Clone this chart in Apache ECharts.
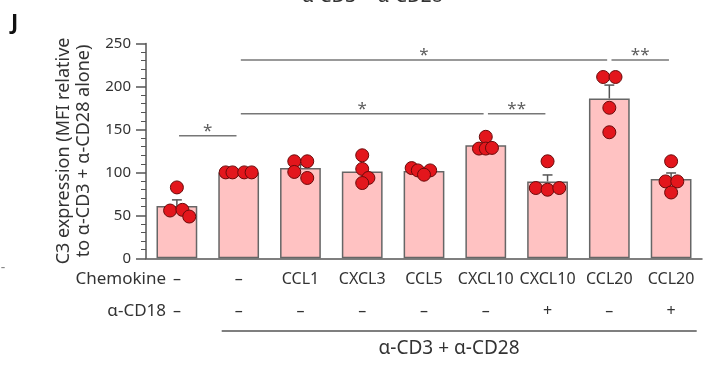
<!DOCTYPE html>
<html>
<head>
<meta charset="utf-8">
<script src="https://cdn.jsdelivr.net/npm/echarts@6/dist/echarts.min.js"></script>
<style>
  html, body { margin: 0; padding: 0; background: #fff; }
  #main { width: 706px; height: 370px; }
</style>
</head>
<body>
<div id="main"></div>
<script>
// categories along the x axis
const chemokines = ['–', '–', 'CCL1', 'CXCL3', 'CCL5', 'CXCL10', 'CXCL10', 'CCL20', 'CCL20'];
const cd18 = ['–', '–', '–', '–', '–', '–', '+', '–', '+'];

// bar means and the top of each SEM bar
const means = [61, 100, 105, 101, 101.5, 131.5, 89.5, 186, 92.3];
const semTop = [68, 100.5, 109, 108, 103, 134, 97, 201.6, 99.3];

// individual donors (4 per group) and their horizontal jitter, in category widths
const points = [
    [82.5, 55.6, 56.4, 48.6],
    [100, 100, 100, 100],
    [112.9, 112.9, 100.5, 93.5],
    [119.9, 104, 93.5, 87.6],
    [105, 102.3, 102.3, 97.3],
    [141.4, 127.7, 127.7, 128.5],
    [112.9, 81.8, 79.8, 81.8],
    [211, 211, 175.2, 146.7],
    [112.9, 89.5, 89.5, 76.6]
];
const jitter = [
    [0, -0.11, 0.09, 0.2],
    [-0.21, -0.1, 0.09, 0.21],
    [-0.1, 0.11, -0.1, 0.11],
    [0, 0, 0.1, 0],
    [-0.2, -0.1, 0.1, 0],
    [0, -0.11, 0, 0.1],
    [0, -0.19, 0, 0.19],
    [-0.1, 0.1, 0, 0],
    [0, -0.09, 0.1, 0]
];

// significance brackets
const bracketFrom = [0, 1, 5, 1, 7];
const bracketTo = [1, 5, 6, 7, 8];
const bracketY = [142.5, 168.2, 168.2, 230.8, 230.8];
const bracketText = ['*', '*', '**', '*', '**'];

const yTicks = [0, 50, 100, 150, 200, 250];

const axisColor = '#555';
const textColor = '#333';
const font = 'Noto Sans';

var myChart = echarts.init(document.getElementById('main'));

var dots = [];
points.forEach((grp, i) => {
    grp.forEach((v, j) => {
        dots.push([i + 0.5 + jitter[i][j], v]);
    });
});

var gap = 0.035;
var bracketSeries = bracketFrom.map((f, k) => ({
    type: 'line',
    xAxisIndex: 2,
    symbol: 'none',
    silent: true,
    z: 3,
    lineStyle: { color: '#777', width: 1.5 },
    data: [[f + 0.5 + gap, bracketY[k]], [bracketTo[k] + 0.5 - gap, bracketY[k]]]
}));

var starData = bracketFrom.map((f, k) => ({
    value: [(f + bracketTo[k]) / 2 + 0.5, bracketY[k]],
    label: { formatter: bracketText[k] }
}));

var option = {
    animation: false,
    grid: { left: 146, right: 4, top: 43.5, bottom: 111.7 },
    xAxis: [
        {
            type: 'category',
            data: chemokines,
            axisLine: { lineStyle: { color: axisColor, width: 1.5 } },
            axisTick: { alignWithLabel: true, length: 11, lineStyle: { color: axisColor, width: 1.5 } },
            axisLabel: { interval: 0, color: textColor, fontFamily: font, fontSize: 16, margin: 13 }
        },
        {
            type: 'category',
            data: cd18,
            position: 'bottom',
            offset: 32,
            axisLine: { show: false },
            axisTick: { show: false },
            axisLabel: { interval: 0, color: textColor, fontFamily: font, fontSize: 16, margin: 13 }
        },
        { type: 'value', min: 0, max: 9, show: false }
    ],
    yAxis: {
        type: 'value',
        min: yTicks[0],
        max: yTicks[yTicks.length - 1],
        interval: 50,
        name: 'C3 expression (MFI relative\nto α-CD3 + α-CD28 alone)',
        nameLocation: 'middle',
        nameGap: 50,
        nameTextStyle: { color: textColor, fontFamily: font, fontSize: 18, lineHeight: 20 },
        axisLine: { show: true, lineStyle: { color: axisColor, width: 1.5 } },
        axisTick: { show: true, length: 10, lineStyle: { color: axisColor, width: 1.5 } },
        minorTick: { show: true, splitNumber: 5, length: 5, lineStyle: { color: axisColor, width: 1 } },
        splitLine: { show: false },
        axisLabel: { color: textColor, fontFamily: font, fontSize: 15, margin: 15 }
    },
    series: [
        {
            type: 'bar',
            data: means,
            barWidth: '66%',
            itemStyle: { color: '#ffc2c2', borderColor: '#666', borderWidth: 1.5 },
            z: 2
        },
        {
            type: 'custom',
            z: 4,
            data: means.map((m, i) => [i, m, semTop[i]]),
            renderItem: function (params, api) {
                var base = api.coord([api.value(0), api.value(1)]);
                var top = api.coord([api.value(0), api.value(2)]);
                var half = api.size([1, 0])[0] * 0.08;
                var style = { stroke: '#555', lineWidth: 1.5 };
                return {
                    type: 'group',
                    children: [
                        { type: 'line', shape: { x1: base[0], y1: base[1], x2: top[0], y2: top[1] }, style: style },
                        { type: 'line', shape: { x1: top[0] - half, y1: top[1], x2: top[0] + half, y2: top[1] }, style: style }
                    ]
                };
            }
        },
        {
            type: 'scatter',
            xAxisIndex: 2,
            data: dots,
            symbolSize: 13,
            z: 5,
            itemStyle: { color: '#e3161c', borderColor: '#6a0a0a', borderWidth: 1, opacity: 1 }
        },
        ...bracketSeries,
        {
            type: 'scatter',
            xAxisIndex: 2,
            data: starData,
            symbolSize: 1,
            silent: true,
            itemStyle: { color: 'rgba(0,0,0,0)' },
            label: {
                show: true,
                position: 'top',
                distance: -4,
                color: '#333',
                fontFamily: font,
                fontSize: 17
            }
        }
    ],
    graphic: [
        {
            type: 'text', left: 11, top: 12,
            style: { text: 'J', font: 'bold 22px "Noto Sans"', fill: '#111' }
        },
        {
            type: 'text', x: 372, y: -3,
            style: { text: 'α-CD3 + α-CD28', font: '19px "Noto Sans"', fill: textColor, textAlign: 'center', textVerticalAlign: 'middle' }
        },
        {
            type: 'text', x: 166, y: 279,
            style: { text: 'Chemokine', font: '17px "Noto Sans"', fill: textColor, textAlign: 'right', textVerticalAlign: 'middle' }
        },
        {
            type: 'text', x: 166, y: 311,
            style: { text: 'α-CD18', font: '17px "Noto Sans"', fill: textColor, textAlign: 'right', textVerticalAlign: 'middle' }
        },
        {
            type: 'line',
            shape: { x1: 221.7, y1: 331, x2: 696.7, y2: 331 },
            style: { stroke: axisColor, lineWidth: 1.5 }
        },
        {
            type: 'text', x: 449, y: 349,
            style: { text: 'α-CD3 + α-CD28', font: '19px "Noto Sans"', fill: textColor, textAlign: 'center', textVerticalAlign: 'middle' }
        },
        {
            type: 'text', x: 3, y: 268,
            style: { text: '-', font: '14px "Noto Sans"', fill: '#888', textAlign: 'center', textVerticalAlign: 'middle' }
        }
    ]
};

option && myChart.setOption(option);
</script>
</body>
</html>
